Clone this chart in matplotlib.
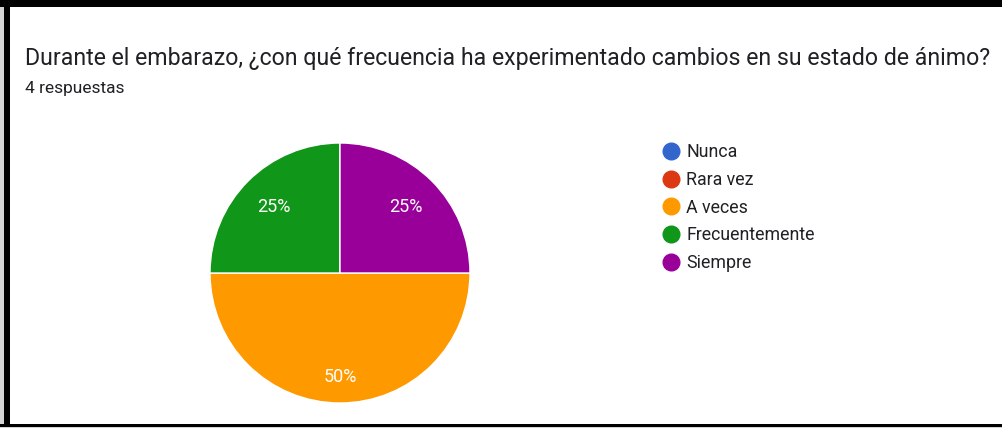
import matplotlib.pyplot as plt
from matplotlib.lines import Line2D
from matplotlib.patches import Rectangle

# datos
categorias = ["Nunca", "Rara vez", "A veces", "Frecuentemente", "Siempre"]
respuestas = [0, 0, 2, 1, 1]
colores = ["#3366cc", "#dc3912", "#ff9900", "#109618", "#990099"]
titulo = "Durante el embarazo, ¿con qué frecuencia ha experimentado cambios en su estado de ánimo?"
subtitulo = "4 respuestas"

plt.rcParams['font.family'] = ['Roboto', 'DejaVu Sans']
W, H = 1003, 428
fig = plt.figure(figsize=(W / 100, H / 100), dpi=100)
fig.patch.set_facecolor("white")

def px(x, y, w, h):
    return (x / W, 1 - (y + h) / H, w / W, h / H)

# marco
for (x, y, w, h, c) in [(0, 0, 4, H, "#d4d4d4"), (4, 0, 6, H, "black"),
                        (0, 0, W, 7, "black"), (0, 424, W, 3, "black"),
                        (0, 427, W, 1, "#d4d4d4")]:
    l, b, ww, hh = px(x, y, w, h)
    fig.add_artist(Rectangle((l, b), ww, hh, transform=fig.transFigure,
                             facecolor=c, edgecolor="none", zorder=10))

fig.text(25 / W, 1 - 58 / H, titulo, fontsize=16.7, color="#202124", va="center", ha="left")
fig.text(25 / W, 1 - 88 / H, subtitulo, fontsize=12.5, color="#202124", va="center", ha="left")

ax = fig.add_axes(px(210, 143, 260, 260))
def fmt(p):
    return f"{p:.0f}%" if p > 0 else ""
wedges, texts, autotexts = ax.pie(respuestas, colors=colores, startangle=0, counterclock=False,
                                  autopct=fmt, pctdistance=0.72,
                                  wedgeprops=dict(edgecolor="white", linewidth=1))
total = sum(respuestas)
for t, v in zip(autotexts, respuestas):
    t.set_color("white")
    t.set_fontsize(13)
    if v / total >= 0.5:
        x, y = t.get_position()
        t.set_position((x * 0.8 / 0.72, y * 0.8 / 0.72))
ax.set_xlim(-1, 1)
ax.set_ylim(-1, 1)

handles = [Line2D([], [], marker="o", linestyle="none", markersize=12,
                  markerfacecolor=c, markeredgecolor=c) for c in colores]
fig.legend(handles, categorias, loc="upper left", bbox_to_anchor=(662 / W, 1 - 143 / H),
           frameon=False, fontsize=12.8, labelspacing=0.55, handletextpad=0.35,
           handlelength=1.0, borderaxespad=0, borderpad=0, labelcolor="#202124")

fig.savefig("out.png", dpi=100)
